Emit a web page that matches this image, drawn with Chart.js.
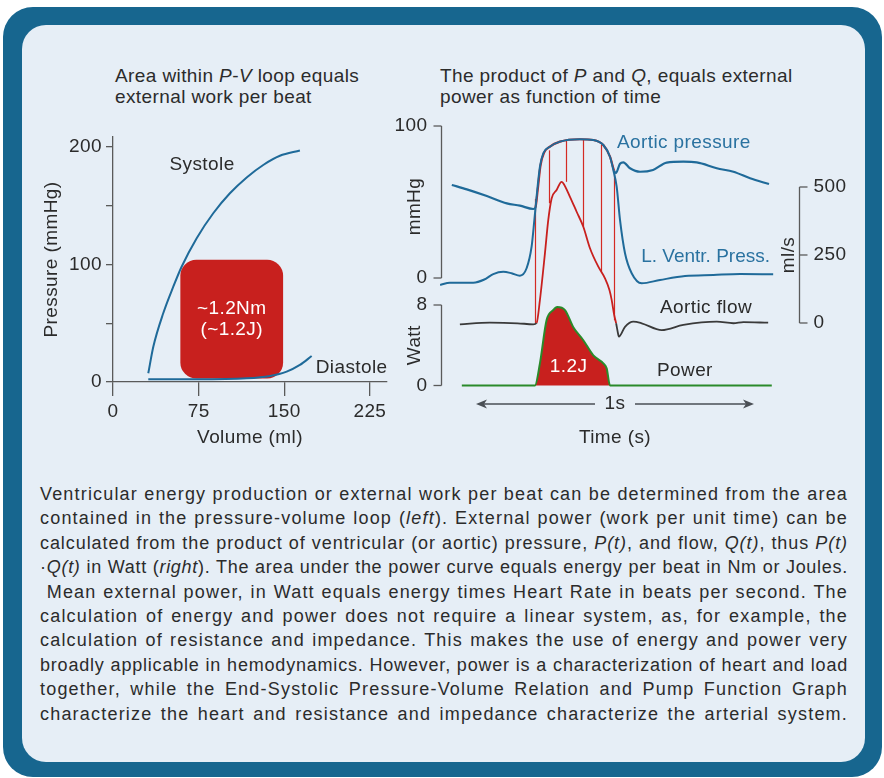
<!DOCTYPE html>
<html>
<head>
<meta charset="utf-8">
<script src="https://cdn.jsdelivr.net/npm/chart.js@4.4.1/dist/chart.umd.min.js"></script>
<style>
html, body { margin: 0; padding: 0; background: #fff; }
body { width: 884px; height: 778px; position: relative; overflow: hidden;
       font-family: "Liberation Sans", Arial, sans-serif; color: #2b2b2b; }
#frame { position: absolute; left: 3px; top: 7px; width: 879px; height: 770px;
         background: #17668f; border-radius: 30px; }
#panel { position: absolute; left: 22px; top: 25px; width: 843px; height: 737px;
         background: #e6eef6; border-radius: 24px; }
.title { position: absolute; top: 65px; font-size: 19px; line-height: 21px; letter-spacing: 0.4px; }
#pv { position: absolute; left: 30px; top: 120px; }
#pq { position: absolute; left: 390px; top: 110px; }
#caption { position: absolute; left: 40px; top: 482px; width: 808px;
           font-size: 18px; line-height: 24.4px; }
#caption div { white-space: nowrap; text-align: left; }
#caption.fitted div { text-align: justify; text-align-last: justify; }
</style>
</head>
<body>
<div id="frame"></div>
<div id="panel"></div>

<div class="title" style="left:115px">Area within <i>P</i>-<i>V</i> loop equals<br>external work per beat</div>
<div class="title" style="left:440px">The product of <i>P</i> and <i>Q</i>, equals external<br>power as function of time</div>

<canvas id="pv" width="370" height="340"></canvas>
<canvas id="pq" width="460" height="350"></canvas>

<div id="caption">
  <div><span>Ventricular energy production or external work per beat can be determined from the area</span></div>
  <div><span>contained in the pressure-volume loop (<i>left</i>). External power (work per unit time) can be</span></div>
  <div><span>calculated from the product of ventricular (or aortic) pressure, <i>P(t)</i>, and flow, <i>Q(t)</i>, thus <i>P(t)</i></span></div>
  <div><span>·<i>Q(t)</i> in Watt (<i>right</i>). The area under the power curve equals energy per beat in Nm or Joules.</span></div>
  <div><span>&nbsp;Mean external power, in Watt equals energy times Heart Rate in beats per second. The</span></div>
  <div><span>calculation of energy and power does not require a linear system, as, for example, the</span></div>
  <div><span>calculation of resistance and impedance. This makes the use of energy and power very</span></div>
  <div><span>broadly applicable in hemodynamics. However, power is a characterization of heart and load</span></div>
  <div><span>together, while the End-Systolic Pressure-Volume Relation and Pump Function Graph</span></div>
  <div><span>characterize the heart and resistance and impedance characterize the arterial system.</span></div>
</div>

<script>
// ---- left: pressure-volume loop ----
const systoleVolume = [30.9, 35.3, 44.0, 52.8, 60.1, 73.3, 87.8, 102.4, 117.1, 131.6, 146.2, 163.7];
const systolePressure = [7.4, 30.0, 58.5, 81.1, 98.1, 122.4, 143.6, 160.6, 174.1, 184.7, 192.5, 197.0];
const diastoleVolume = [30.9, 73.3, 117.1, 137.5, 152.1, 163.7, 174.0];
const diastolePressure = [2.3, 2.3, 3.1, 5.1, 8.8, 14.5, 22.1];
const volumeTicks = [0, 75, 150, 225];
const pressureTicks = [0, 50, 100, 150, 200];
const pressureLabels = [0, 100, 200];
const loopVolumeRange = [59, 149];
const loopPressureRange = [3, 104];

// ---- right: pressures, flow and power against time (s) ----
const aorticTime = [-0.087, -0.033, 0.039, 0.111, 0.158, 0.206, 0.214, 0.222, 0.232, 0.245, 0.266, 0.302, 0.374, 0.422, 0.458, 0.482, 0.497, 0.503, 0.518, 0.530, 0.554, 0.590, 0.637, 0.686, 0.746, 0.794, 0.866, 0.926, 0.986, 1.054];
const aorticPressure = [61.2, 58.3, 53.9, 49.1, 47.6, 45.4, 46.5, 58, 74, 82.5, 86.4, 89.7, 91.3, 90.8, 87.5, 79.8, 70.5, 69.0, 75.2, 76.1, 72.2, 69.9, 71.1, 75.9, 76.5, 76.1, 72.2, 69.9, 65.6, 61.8];
const lvTime = [-0.129, -0.094, -0.010, 0.030, 0.062, 0.098, 0.128, 0.158, 0.182, 0.200, 0.210, 0.218, 0.230, 0.242, 0.266, 0.302, 0.374, 0.422, 0.458, 0.482, 0.494, 0.506, 0.518, 0.536, 0.560, 0.596, 0.662, 0.752, 0.854, 0.950, 1.069];
const lvPressure = [-4.6, -3.1, -3.1, -1.0, 2.6, 4.1, 3.1, 1.5, 6.4, 20.6, 38.2, 53.5, 73.2, 82.0, 86.4, 89.7, 91.3, 90.8, 87.5, 79.8, 71.1, 60.1, 38.2, 16.3, 3.1, -3.5, -1.3, 1.3, 2.0, 2.6, 2.4];
const flowTime = [-0.058, 0.050, 0.150, 0.206, 0.218, 0.230, 0.248, 0.260, 0.272, 0.290, 0.308, 0.314, 0.338, 0.362, 0.386, 0.410, 0.440, 0.464, 0.480, 0.488, 0.497, 0.504, 0.512, 0.514, 0.536, 0.566, 0.596, 0.668, 0.746, 0.866, 0.926, 0.962, 1.051];
const aorticFlow = [-4.8, 1.1, -1.1, -4.8, 0, 85, 256, 379, 458, 489, 519, 514, 464, 409, 354, 275, 207, 164, 121, 85, 30, -1, -44, -50, -14, 5, -1, -26, -7, 5, -1, 3, 1];
const powerTime = [-0.051, 0.212, 0.230, 0.254, 0.278, 0.292, 0.320, 0.350, 0.386, 0.422, 0.458, 0.470, 0.482, 1.064];
const power = [0, 0, 2.2, 6.5, 7.5, 7.8, 7.5, 5.8, 4.5, 3.0, 2.2, 1.7, 0, 0];
const productTimes = [0.212, 0.263, 0.325, 0.386, 0.449, 0.497];
const productPressure = [52, 84, 90.3, 91.3, 87.5, 69];
const productFlow = [0, 440, 519, 354, 189, 10];
const ejection = [0.212, 0.504];
const mmHgTicks = [0, 100];
const wattTicks = [0, 8];
const flowTicks = [0, 250, 500];

const BLUE = '#1f6a99';
const RED = '#c8201e';
const GREEN = '#2a8a2a';
const DARK = '#3a3a3a';
const AXIS = '#5a5a5a';
const TEXT = '#2b2b2b';
const FONT = '"Liberation Sans", Arial, sans-serif';
const FONT_SIZE = 19;

const toPoints = (xs, ys) => xs.map((x, i) => ({x: x, y: ys[i]}));

// slight tracking on every canvas label, like the printed figure
const tracking = {
    id: 'tracking',
    beforeDraw(chart) { chart.ctx.letterSpacing = '0.4px'; }
};

// P-V chart
const pvLabels = {
    id: 'pvLabels',
    beforeDatasetsDraw(chart) {
        const {ctx, scales: {x, y}} = chart;
        const x0 = x.getPixelForValue(loopVolumeRange[0]);
        const x1 = x.getPixelForValue(loopVolumeRange[1]);
        const y0 = y.getPixelForValue(loopPressureRange[1]);
        const y1 = y.getPixelForValue(loopPressureRange[0]);
        ctx.save();
        ctx.fillStyle = RED;
        ctx.beginPath();
        ctx.roundRect(x0, y0, x1 - x0, y1 - y0, 16);
        ctx.fill();
        ctx.restore();
    },
    afterDatasetsDraw(chart) {
        const {ctx, scales: {x, y}} = chart;
        const cx = x.getPixelForValue((loopVolumeRange[0] + loopVolumeRange[1]) / 2);
        const cy = y.getPixelForValue((loopPressureRange[0] + loopPressureRange[1]) / 2);
        ctx.save();
        ctx.font = FONT_SIZE + 'px ' + FONT;
        ctx.textAlign = 'center';
        ctx.textBaseline = 'middle';
        ctx.fillStyle = '#fff';
        ctx.fillText('~1.2Nm', cx, cy - 10.5);
        ctx.fillText('(~1.2J)', cx, cy + 10.5);
        ctx.fillStyle = TEXT;
        ctx.fillText('Systole', x.getPixelForValue(78), y.getPixelForValue(184.7));
        ctx.fillText('Diastole', x.getPixelForValue(209), y.getPixelForValue(11.9));
        ctx.restore();
    }
};

new Chart(document.getElementById('pv'), {
    type: 'line',
    data: {
        datasets: [
            {
                label: 'Systole',
                data: toPoints(systoleVolume, systolePressure),
                borderColor: BLUE,
                borderWidth: 2,
                pointRadius: 0,
                cubicInterpolationMode: 'monotone'
            },
            {
                label: 'Diastole',
                data: toPoints(diastoleVolume, diastolePressure),
                borderColor: BLUE,
                borderWidth: 2,
                pointRadius: 0,
                cubicInterpolationMode: 'monotone'
            }
        ]
    },
    options: {
        responsive: false,
        animation: false,
        events: [],
        layout: { padding: { top: 17, right: 13, left: 0, bottom: 0 } },
        plugins: { legend: { display: false }, tooltip: { enabled: false } },
        scales: {
            x: {
                type: 'linear',
                min: 0,
                max: 240,
                afterBuildTicks: s => { s.ticks = volumeTicks.map(v => ({value: v})); },
                afterFit: s => { s.height = 78; },
                grid: { drawOnChartArea: false, tickLength: 14, color: AXIS, lineWidth: 1.3 },
                border: { color: AXIS, width: 1.3 },
                ticks: { color: TEXT, font: { size: FONT_SIZE, family: FONT }, padding: 4.6, maxRotation: 0 },
                title: { display: true, text: 'Volume (ml)', color: TEXT,
                         font: { size: FONT_SIZE, family: FONT }, padding: { top: 0, bottom: 10.6 } }
            },
            y: {
                min: 0,
                max: 208.5,
                afterBuildTicks: s => { s.ticks = pressureTicks.map(v => ({value: v})); },
                afterFit: s => { s.width = 83; },
                grid: { drawOnChartArea: false, tickLength: 7, color: AXIS, lineWidth: 1.3 },
                border: { color: AXIS, width: 1.3 },
                ticks: { color: TEXT, font: { size: FONT_SIZE, family: FONT }, padding: 4,
                         callback: v => pressureLabels.includes(v) ? String(v) : '' },
                title: { display: true, text: 'Pressure (mmHg)', color: TEXT,
                         font: { size: FONT_SIZE, family: FONT }, padding: { top: 10.6, bottom: 0 } }
            }
        }
    },
    plugins: [tracking, pvLabels]
});

// P, Q and power chart
function bracketAxis(ctx, scale, x, values, side) {
    const yTop = scale.getPixelForValue(values[values.length - 1]);
    const yBot = scale.getPixelForValue(values[0]);
    ctx.beginPath();
    ctx.moveTo(x, yTop);
    ctx.lineTo(x, yBot);
    ctx.stroke();
    ctx.textAlign = side < 0 ? 'right' : 'left';
    values.forEach(v => {
        const y = scale.getPixelForValue(v);
        ctx.beginPath();
        ctx.moveTo(x, y);
        ctx.lineTo(x + side * 8, y);
        ctx.stroke();
        ctx.fillText(String(v), x + side * 14, y);
    });
}

function rotatedText(ctx, text, x, y) {
    ctx.save();
    ctx.translate(x, y);
    ctx.rotate(-Math.PI / 2);
    ctx.textAlign = 'center';
    ctx.fillText(text, 0, 0);
    ctx.restore();
}

const pqDecor = {
    id: 'pqDecor',
    beforeDatasetsDraw(chart) {
        const {ctx, scales: {x, yP, yF}} = chart;
        ctx.save();
        ctx.strokeStyle = '#d42a24';
        ctx.lineWidth = 1.2;
        productTimes.forEach((t, i) => {
            const px = Math.round(x.getPixelForValue(t)) + 0.5;
            ctx.beginPath();
            ctx.moveTo(px, yP.getPixelForValue(productPressure[i]));
            ctx.lineTo(px, yF.getPixelForValue(productFlow[i]));
            ctx.stroke();
        });
        ctx.restore();
    },
    afterDraw(chart) {
        const {ctx, chartArea, scales: {x, yP, yW, yF}} = chart;
        ctx.save();
        ctx.strokeStyle = AXIS;
        ctx.lineWidth = 1.3;
        ctx.fillStyle = TEXT;
        ctx.font = FONT_SIZE + 'px ' + FONT;
        ctx.textBaseline = 'middle';
        const left = Math.round(chartArea.left) + 0.5;
        const right = Math.round(chartArea.right) + 0.5;
        bracketAxis(ctx, yP, left, mmHgTicks, -1);
        bracketAxis(ctx, yW, left, wattTicks, -1);
        bracketAxis(ctx, yF, right, flowTicks, 1);
        rotatedText(ctx, 'mmHg', chartArea.left - 26, yP.getPixelForValue(47));
        rotatedText(ctx, 'Watt', chartArea.left - 26, yW.getPixelForValue(4));
        rotatedText(ctx, 'ml/s', chartArea.right - 10, yF.getPixelForValue(250));

        // one second arrow
        const ax0 = x.getPixelForValue(0);
        const ax1 = x.getPixelForValue(1);
        const axm = x.getPixelForValue(0.5);
        const ay = chartArea.bottom + 12;
        ctx.strokeStyle = '#4a4f55';
        ctx.fillStyle = '#4a4f55';
        ctx.lineWidth = 1.6;
        ctx.beginPath();
        ctx.moveTo(ax0 + 4, ay); ctx.lineTo(axm - 20, ay);
        ctx.moveTo(axm + 20, ay); ctx.lineTo(ax1 - 4, ay);
        ctx.stroke();
        [[ax0, 1], [ax1, -1]].forEach(([px, d]) => {
            ctx.beginPath();
            ctx.moveTo(px, ay);
            ctx.lineTo(px + d * 11, ay - 4.5);
            ctx.lineTo(px + d * 8, ay);
            ctx.lineTo(px + d * 11, ay + 4.5);
            ctx.closePath();
            ctx.fill();
        });
        ctx.fillStyle = TEXT;
        ctx.textAlign = 'center';
        ctx.fillText('1s', axm, ay);
        ctx.fillText('Time (s)', axm, chartArea.bottom + 46);

        // curve labels
        ctx.textAlign = 'left';
        ctx.fillStyle = '#2a72a0';
        ctx.fillText('Aortic pressure', x.getPixelForValue(0.507), yP.getPixelForValue(88.8));
        ctx.letterSpacing = '0px';
        ctx.fillText('L. Ventr. Press.', x.getPixelForValue(0.594), yP.getPixelForValue(13.8));
        ctx.letterSpacing = '0.4px';
        ctx.fillStyle = TEXT;
        ctx.fillText('Aortic flow', x.getPixelForValue(0.662), yF.getPixelForValue(55));
        ctx.fillText('Power', x.getPixelForValue(0.651), yW.getPixelForValue(1.44));
        ctx.textAlign = 'center';
        ctx.fillStyle = '#fff';
        ctx.fillText('1.2J', x.getPixelForValue(0.333), yW.getPixelForValue(1.84));
        ctx.restore();
    }
};

const inEjection = (ctx, a, b) => ctx.p0.parsed.x >= a && ctx.p1.parsed.x <= b;

new Chart(document.getElementById('pq'), {
    type: 'line',
    data: {
        datasets: [
            {
                label: 'L. Ventr. Press.',
                data: toPoints(lvTime, lvPressure),
                yAxisID: 'yP',
                borderColor: BLUE,
                borderWidth: 2,
                pointRadius: 0,
                cubicInterpolationMode: 'monotone'
            },
            {
                label: 'Aortic pressure',
                data: toPoints(aorticTime, aorticPressure),
                yAxisID: 'yP',
                borderColor: BLUE,
                borderWidth: 2.2,
                pointRadius: 0,
                cubicInterpolationMode: 'monotone',
                segment: { borderColor: c => inEjection(c, ejection[0], 0.497) ? RED : BLUE }
            },
            {
                label: 'Aortic flow',
                data: toPoints(flowTime, aorticFlow),
                yAxisID: 'yF',
                borderColor: DARK,
                borderWidth: 1.8,
                pointRadius: 0,
                cubicInterpolationMode: 'monotone',
                segment: { borderColor: c => inEjection(c, 0.218, ejection[1]) ? RED : DARK }
            },
            {
                label: 'Power',
                data: toPoints(powerTime, power),
                yAxisID: 'yW',
                borderColor: GREEN,
                borderWidth: 2,
                pointRadius: 0,
                cubicInterpolationMode: 'monotone',
                fill: 'origin',
                backgroundColor: RED
            }
        ]
    },
    options: {
        responsive: false,
        animation: false,
        events: [],
        clip: false,
        layout: { padding: { top: 10, right: 51, left: 51, bottom: 68 } },
        plugins: { legend: { display: false }, tooltip: { enabled: false } },
        scales: {
            x: { type: 'linear', display: false, min: -0.1259, max: 1.1619 },
            yP: { display: false, min: -75, max: 103.95 },
            yW: { display: false, min: -0.646, max: 26.385 },
            yF: { display: false, min: -253.7, max: 746.3 }
        }
    },
    plugins: [tracking, pqDecor]
});

// caption: widen each line a little with letter spacing, then justify the rest
const caption = document.getElementById('caption');
caption.querySelectorAll('span').forEach(s => {
    const w = s.getBoundingClientRect().width;
    const n = s.textContent.length;
    const ls = Math.max(0, Math.min(1.2, (caption.clientWidth - w - 2) / n));
    s.style.letterSpacing = ls.toFixed(2) + 'px';
});
caption.classList.add('fitted');
</script>
</body>
</html>
